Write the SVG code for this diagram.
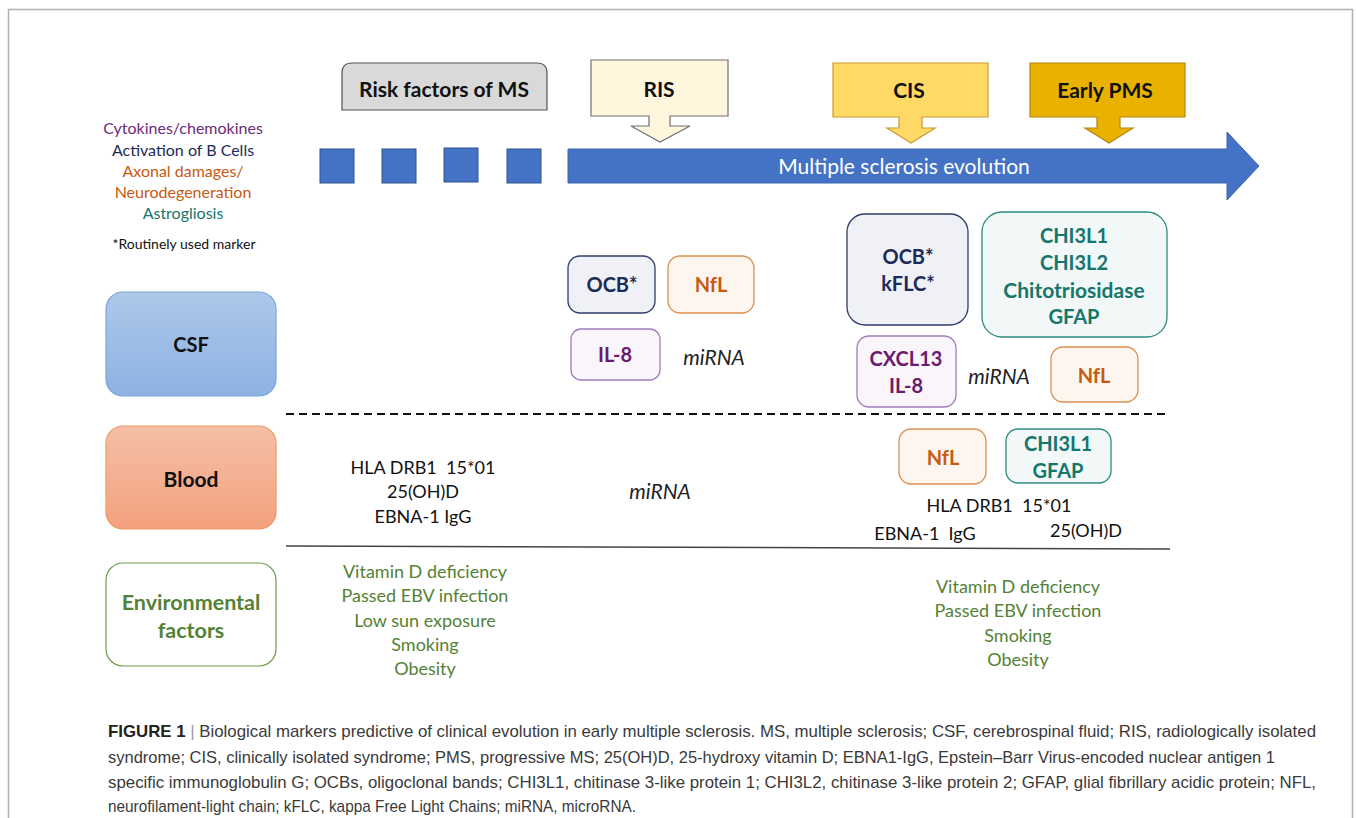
<svg xmlns="http://www.w3.org/2000/svg" width="1356" height="818" viewBox="0 0 1356 818">
<defs>
<linearGradient id="gCsf" x1="0" y1="0" x2="0" y2="1"><stop offset="0" stop-color="#aec8ea"/><stop offset="1" stop-color="#8cb2e2"/></linearGradient>
<linearGradient id="gBlood" x1="0" y1="0" x2="0" y2="1"><stop offset="0" stop-color="#f5bfa6"/><stop offset="1" stop-color="#f4a17e"/></linearGradient>
<style>
text{font-family:Lato,"Open Sans","Liberation Sans",sans-serif;text-anchor:middle;dominant-baseline:central}
.b{font-weight:bold}
.t21{font-size:21px}
.t20{font-size:20px}
.t18{font-size:18px}
.t16{font-size:16px}
.navy{fill:#1c2b5a}.org{fill:#c55a11}.pur{fill:#6a1b6e}.teal{fill:#17766b}.grn{fill:#548235}
.boxNavy{fill:#eff1f6;stroke:#2f3d6b;stroke-width:1.3}
.boxOrg{fill:#fdf6ef;stroke:#dc9152;stroke-width:1.3}
.boxPur{fill:#faf5fb;stroke:#a07cbf;stroke-width:1.3}
.boxTeal{fill:#f1f8f7;stroke:#2e8b80;stroke-width:1.3}
.it{font-style:italic;font-size:21px;fill:#222}
.cap{font-family:"Liberation Sans",Arial,sans-serif;font-size:17px;fill:#3a3a3a;text-anchor:start;dominant-baseline:auto}
</style>
</defs>
<rect width="1356" height="818" fill="#fff"/>
<path d="M8.5 830 V9.5 H1352.5 V830" fill="none" stroke="#b0b0b0" stroke-width="1.5"/>

<g id="legend">
<text x="183" y="127" class="t16" fill="#6b2c7b" font-size="16.5">Cytokines/chemokines</text>
<text x="183" y="149" class="t16 navy">Activation of B Cells</text>
<text x="183" y="170" class="t16 org">Axonal damages/</text>
<text x="183" y="191" class="t16 org">Neurodegeneration</text>
<text x="183" y="212" class="t16 teal">Astrogliosis</text>
<text x="184" y="243" font-size="14" fill="#111">*Routinely used marker</text>
</g>

<g id="timeline">
<rect x="320" y="149" width="34" height="34" fill="#4472c4" stroke="#2f528f" stroke-width="1"/>
<rect x="382" y="149" width="34" height="34" fill="#4472c4" stroke="#2f528f" stroke-width="1"/>
<rect x="444" y="148" width="34" height="34" fill="#4472c4" stroke="#2f528f" stroke-width="1"/>
<rect x="507" y="149" width="34" height="34" fill="#4472c4" stroke="#2f528f" stroke-width="1"/>
<path d="M568 149 H1227 V132 L1259 166 L1227 200 V183 H568 Z" fill="#4472c4" stroke="#3b64ad" stroke-width="1"/>
<text x="904" y="165" font-size="21" fill="#fff">Multiple sclerosis evolution</text>
</g>

<g id="risk-factors">
<path d="M342 110 V73 Q342 63 352 63 H537 Q547 63 547 73 V110 Z" fill="#d9d9d9" stroke="#555" stroke-width="1.2"/>
<text x="444" y="88" class="b t21" fill="#111">Risk factors of MS</text>
</g>

<g id="ris">
<path d="M591 60 H728 V116 H670 V126 H690 L660 142 L631 126 H649 V116 H591 Z" fill="#fef6dd" stroke="#707070" stroke-width="1.2"/>
<text x="659" y="88" class="b t21" fill="#111">RIS</text>
</g>

<g id="cis">
<path d="M833 63 H988 V117 H922 V128 H935 L911 143 L887 128 H899 V117 H833 Z" fill="#ffd966" stroke="#c99b2d" stroke-width="1.2"/>
<text x="909" y="89" class="b t21" fill="#111">CIS</text>
</g>

<g id="early-pms">
<path d="M1030 63 H1185 V117 H1120 V128 H1133 L1109 143 L1085 128 H1097 V117 H1030 Z" fill="#e9b200" stroke="#b8860b" stroke-width="1.2"/>
<text x="1105" y="89" class="b t21" fill="#111">Early PMS</text>
</g>

<g id="csf">
<rect x="106" y="292" width="170" height="104" rx="17" fill="url(#gCsf)" stroke="#78a6dc" stroke-width="1.2"/>
<text x="191" y="344" class="b t20" fill="#111">CSF</text>
</g>
<g id="blood">
<rect x="106" y="426" width="170" height="103" rx="17" fill="url(#gBlood)" stroke="#ee9a63" stroke-width="1.2"/>
<text x="191" y="478" class="b t21" fill="#111">Blood</text>
</g>
<g id="environmental">
<rect x="106" y="563" width="170" height="103" rx="17" fill="#fff" stroke="#6f9a4a" stroke-width="1.2"/>
<text x="191" y="602" class="b grn" font-size="21.5">Environmental</text>
<text x="191" y="630" class="b grn" font-size="21.5">factors</text>
</g>

<g id="connectors">
<line x1="286" y1="414" x2="1170" y2="414" stroke="#111" stroke-width="2" stroke-dasharray="8,5"/>
<line x1="286" y1="546" x2="1170" y2="549" stroke="#444" stroke-width="1.5"/>
</g>

<g id="ris-csf-ocb"><rect x="568" y="256" width="87" height="57" rx="12" class="boxNavy"/><text x="612" y="284" class="b t20 navy">OCB*</text></g>
<g id="ris-csf-nfl"><rect x="668" y="256" width="86" height="57" rx="12" class="boxOrg"/><text x="711" y="284" class="b t20 org">NfL</text></g>
<g id="ris-csf-il8"><rect x="571" y="329" width="89" height="51" rx="10" class="boxPur"/><text x="615" y="354" class="b t20 pur">IL-8</text></g>
<g id="ris-csf-mirna"><text x="714" y="356" class="it">miRNA</text></g>

<g id="cis-csf-ocb"><rect x="847" y="214" width="121" height="111" rx="18" class="boxNavy"/><text x="908" y="256" class="b t20 navy">OCB*</text><text x="908" y="283" class="b t20 navy">kFLC*</text></g>
<g id="pms-csf-chi"><rect x="982" y="212" width="185" height="125" rx="20" class="boxTeal"/>
<text x="1074" y="235" class="b t20 teal">CHI3L1</text><text x="1074" y="262" class="b t20 teal">CHI3L2</text><text x="1074" y="289" class="b teal" font-size="21">Chitotriosidase</text><text x="1074" y="316" class="b t20 teal">GFAP</text></g>
<g id="cis-csf-cxcl"><rect x="857" y="336" width="99" height="71" rx="12" class="boxPur"/><text x="906" y="358" class="b t20 pur">CXCL13</text><text x="906" y="385" class="b t20 pur">IL-8</text></g>
<g id="cis-csf-mirna"><text x="999" y="375" class="it">miRNA</text></g>
<g id="pms-csf-nfl"><rect x="1051" y="347" width="87" height="55" rx="12" class="boxOrg"/><text x="1094" y="375" class="b t20 org">NfL</text></g>

<g id="risk-blood">
<text x="423" y="467" class="t18" fill="#111">HLA DRB1 &#160;15*01</text>
<text x="423" y="491" class="t18" fill="#111">25(OH)D</text>
<text x="423" y="516" class="t18" fill="#111">EBNA-1 IgG</text>
</g>
<g id="ris-blood-mirna"><text x="660" y="490" class="it">miRNA</text></g>
<g id="cis-blood-nfl"><rect x="899" y="429" width="87" height="55" rx="12" class="boxOrg"/><text x="943" y="457" class="b t20 org">NfL</text></g>
<g id="pms-blood-chi"><rect x="1006" y="429" width="105" height="54" rx="12" class="boxTeal"/><text x="1058" y="443" class="b t20 teal">CHI3L1</text><text x="1058" y="470" class="b t20 teal">GFAP</text></g>
<g id="cis-blood-text">
<text x="999" y="505" class="t18" fill="#111">HLA DRB1 &#160;15*01</text>
<text x="925" y="533" class="t18" fill="#111">EBNA-1 &#160;IgG</text>
<text x="1086" y="530" class="t18" fill="#111">25(OH)D</text>
</g>

<g id="risk-env">
<text x="425" y="571" class="t18 grn">Vitamin D deficiency</text>
<text x="425" y="595" class="t18 grn">Passed EBV infection</text>
<text x="425" y="620" class="t18 grn">Low sun exposure</text>
<text x="425" y="644" class="t18 grn">Smoking</text>
<text x="425" y="668" class="t18 grn">Obesity</text>
</g>
<g id="cis-env">
<text x="1018" y="586" class="t18 grn">Vitamin D deficiency</text>
<text x="1018" y="610" class="t18 grn">Passed EBV infection</text>
<text x="1018" y="635" class="t18 grn">Smoking</text>
<text x="1018" y="659" class="t18 grn">Obesity</text>
</g>

<g id="caption">
<text class="cap" x="108" y="737" textLength="1208" lengthAdjust="spacingAndGlyphs"><tspan font-weight="bold" fill="#222">FIGURE 1</tspan><tspan fill="#999"> | </tspan>Biological markers predictive of clinical evolution in early multiple sclerosis. MS, multiple sclerosis; CSF, cerebrospinal fluid; RIS, radiologically isolated</text>
<text class="cap" x="108" y="763" textLength="1167" lengthAdjust="spacingAndGlyphs">syndrome; CIS, clinically isolated syndrome; PMS, progressive MS; 25(OH)D, 25-hydroxy vitamin D; EBNA1-IgG, Epstein–Barr Virus-encoded nuclear antigen 1</text>
<text class="cap" x="108" y="788" textLength="1208" lengthAdjust="spacingAndGlyphs">specific immunoglobulin G; OCBs, oligoclonal bands; CHI3L1, chitinase 3-like protein 1; CHI3L2, chitinase 3-like protein 2; GFAP, glial fibrillary acidic protein; NFL,</text>
<text class="cap" x="108" y="812" textLength="528" lengthAdjust="spacingAndGlyphs">neurofilament-light chain; kFLC, kappa Free Light Chains; miRNA, microRNA.</text>
</g>
</svg>
